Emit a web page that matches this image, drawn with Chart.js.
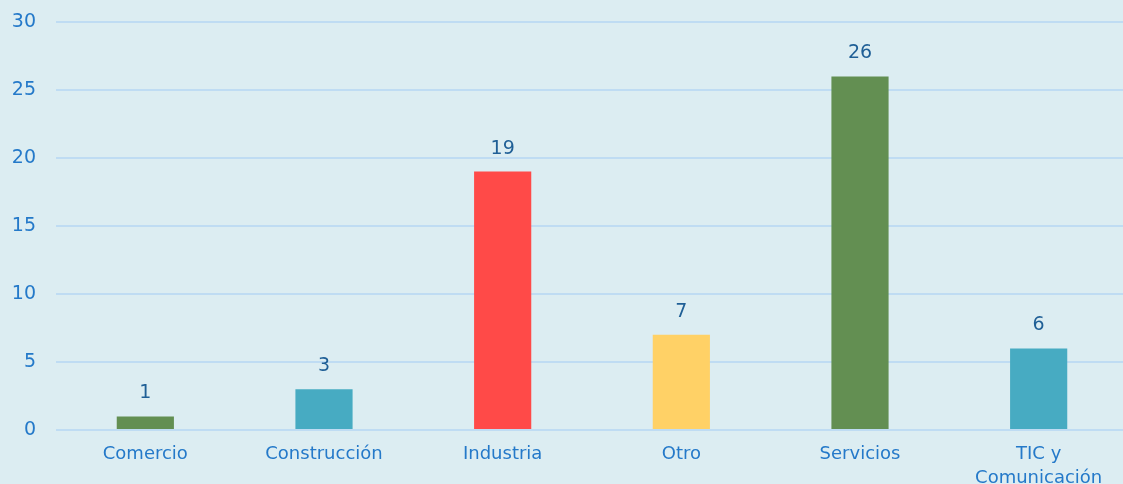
<!DOCTYPE html>
<html>
<head>
<meta charset="utf-8">
<script src="https://cdn.jsdelivr.net/npm/chart.js@4"></script>
<style>
  html, body { margin: 0; padding: 0; background: #dcedf2; overflow: hidden; }
  #wrap { width: 1128px; height: 484px; }
</style>
</head>
<body>
<div id="wrap"><canvas id="sector_chart"></canvas></div>
<script>
var categories = ["Comercio", "Construcción", "Industria", "Otro", "Servicios", ["TIC y", "Comunicación"]];
var counts = [1, 3, 19, 7, 26, 6];
var barColors = ["#638f52", "#47abc2", "#ff4a48", "#ffd166", "#638f52", "#47abc2"];
var yTicks = [0, 5, 10, 15, 20, 25, 30];

// draws the value above each bar
var valueLabels = {
    id: "valueLabels",
    afterDatasetsDraw: function(chart) {
        var ctx = chart.ctx;
        var meta = chart.getDatasetMeta(0);
        ctx.save();
        ctx.fillStyle = "#1f5f96";
        ctx.font = "19px 'DejaVu Sans'";
        ctx.textAlign = "center";
        ctx.textBaseline = "middle";
        meta.data.forEach(function(bar, i) {
            ctx.fillText(counts[i], bar.x, bar.y - 23);
        });
        ctx.restore();
    }
};

new Chart("sector_chart", {
    type: "bar",
    data: {
        labels: categories,
        datasets: [{
            data: counts,
            backgroundColor: barColors,
            borderWidth: 0,
            categoryPercentage: 1,
            barPercentage: 0.32
        }]
    },
    options: {
        responsive: true,
        maintainAspectRatio: false,
        animation: false,
        layout: { padding: { top: 22, right: 0, left: 0, bottom: 0 } },
        plugins: {
            legend: { display: false },
            tooltip: { enabled: false }
        },
        scales: {
            x: {
                grid: { display: false },
                border: { display: false },
                ticks: {
                    color: "#2479c9",
                    font: { family: "'DejaVu Sans'", size: 18, lineHeight: 1.3 },
                    padding: 5,
                    maxRotation: 0
                },
                afterFit: function(scale) { scale.height = 54; }
            },
            y: {
                min: 0,
                max: 30,
                afterBuildTicks: function(scale) {
                    scale.ticks = yTicks.map(function(v) { return { value: v }; });
                },
                grid: { color: "#bfdcf3", lineWidth: 2, drawTicks: false },
                border: { display: false },
                ticks: {
                    color: "#2479c9",
                    font: { family: "'DejaVu Sans'", size: 19 },
                    padding: 20
                },
                afterFit: function(scale) {
                    scale.width = 56;
                    scale.paddingTop = 0;
                    scale.paddingBottom = 0;
                }
            }
        }
    },
    plugins: [valueLabels]
});
</script>
</body>
</html>
